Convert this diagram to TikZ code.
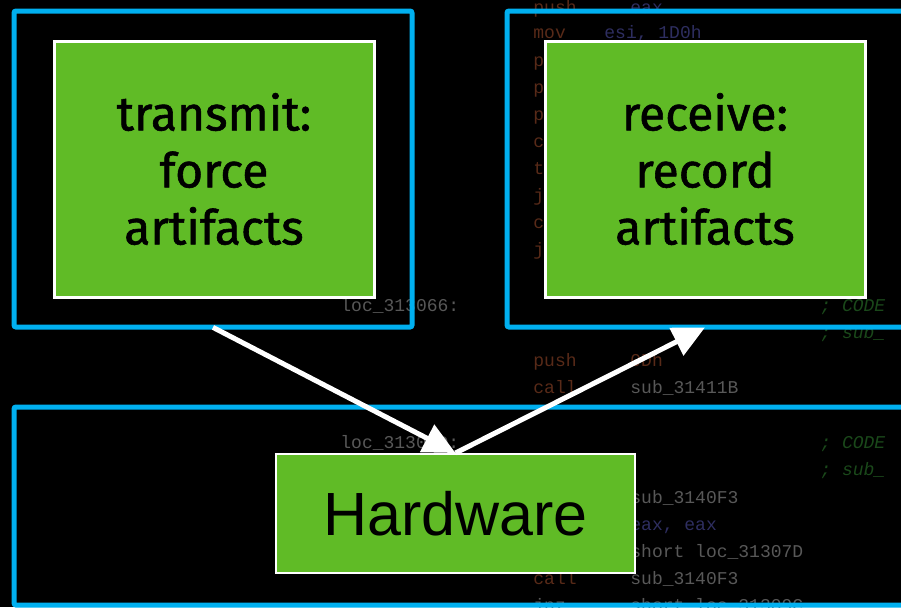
\documentclass[tikz,border=0pt]{standalone}
\usepackage{fontspec}
\setmainfont{Liberation Sans}
\newfontfamily\boxfont[FakeBold=1.2]{Fira Sans}
\newfontfamily\codefont{Liberation Mono}
\usetikzlibrary{arrows.meta}
\definecolor{frameblue}{RGB}{0,176,240}
\definecolor{boxgreen}{RGB}{96,187,38}
\definecolor{codebrown}{RGB}{88,42,24}
\definecolor{codegray}{RGB}{88,88,88}
\definecolor{codeblue}{RGB}{46,46,96}
\definecolor{codegreen}{RGB}{26,72,26}
\tikzset{
  frame/.style={draw=frameblue,line width=2.5pt,rounded corners=1pt},
  greenbox/.style={draw=white,fill=boxgreen,line width=1.5pt,inner sep=0pt,align=center,
     font=\boxfont\fontsize{24}{28.5}\selectfont,text=black},
  hwbox/.style={draw=white,fill=boxgreen,line width=1pt,inner sep=0pt,
     font=\fontsize{30.5}{36}\selectfont,text=black},
  arr/.style={draw=white,line width=2.5pt,-{Triangle[length=16pt,width=15pt]}},
  code/.style={anchor=base west,inner sep=0pt,font=\codefont\fontsize{9}{9}\selectfont},
  br/.style={code,text=codebrown},
  gy/.style={code,text=codegray},
  bl/.style={code,text=codeblue},
  gr/.style={code,text=codegreen,font=\codefont\itshape\fontsize{9}{9}\selectfont}
}
\begin{document}
\begin{tikzpicture}[x=0.5pt,y=-0.5pt]
\useasboundingbox (0,0) rectangle (901,607);
\fill[black] (0,0) rectangle (901,607);
\clip (0,0) rectangle (901,607);
% faint code in the background
\node[br] (c1a) at (533,13) {push};
\node[bl] (c1b) at (630,13) {eax};
\node[br] (c2a) at (533,38) {mov};
\node[bl] (c2b) at (604,38) {esi, 1D0h};
\node[br] (c3) at (533,66) {p};
\node[br] (c4) at (533,93) {p};
\node[br] (c5) at (533,120) {p};
\node[br] (c6) at (533,147) {c};
\node[br] (c7) at (533,174) {t};
\node[br] (c8) at (533,201) {j};
\node[br] (c9) at (533,228) {c};
\node[br] (c10) at (533,255) {j};
\node[gy] (c11a) at (340,311) {loc\_313066:};
\node[gr] (c11b) at (820,311) {; CODE};
\node[gr] (c12) at (820,338) {; sub\_};
\node[br] (c13a) at (533,366) {push};
\node[br] (c13b) at (630,366) {0Dh};
\node[br] (c14a) at (533,393) {call};
\node[gy] (c14b) at (630,393) {sub\_31411B};
\node[gy] (c15a) at (340,448) {loc\_31306D:};
\node[gr] (c15b) at (820,448) {; CODE};
\node[gr] (c16) at (820,475) {; sub\_};
\node[gy] (c17) at (630,503) {sub\_3140F3};
\node[bl] (c18) at (630,530) {eax, eax};
\node[gy] (c19) at (630,557) {short loc\_31307D};
\node[br] (c20a) at (533,584) {call};
\node[gy] (c20b) at (630,584) {sub\_3140F3};
\node[gy] (c21a) at (533,611) {jnz};
\node[gy] (c21b) at (630,611) {short loc\_31309C};
% blue frames
\draw[frame] (14,11) rectangle (412,327);
\node[inner sep=0pt,minimum width=199pt,minimum height=158pt] (tframe) at (213,169) {};
\draw[frame] (507,11) rectangle (915,327);
\node[inner sep=0pt,minimum width=204pt,minimum height=158pt] (rframe) at (711,169) {};
\draw[frame] (14,407) rectangle (915,605);
% green boxes
\node[greenbox,minimum width=160pt,minimum height=128pt] (tx) at (214,169) {transmit:\\force\\artifacts};
\node[greenbox,minimum width=160pt,minimum height=128pt] (rx) at (705,169) {receive:\\record\\artifacts};
\node[hwbox,minimum width=179.5pt,minimum height=59.5pt] (hw) at (455.5,513.5) {Hardware};
% arrows
\draw[arr] (tframe.south) -- (hw.north);
\draw[arr] (hw.north) -- (rx.south |- rframe.south);
\end{tikzpicture}
\end{document}
